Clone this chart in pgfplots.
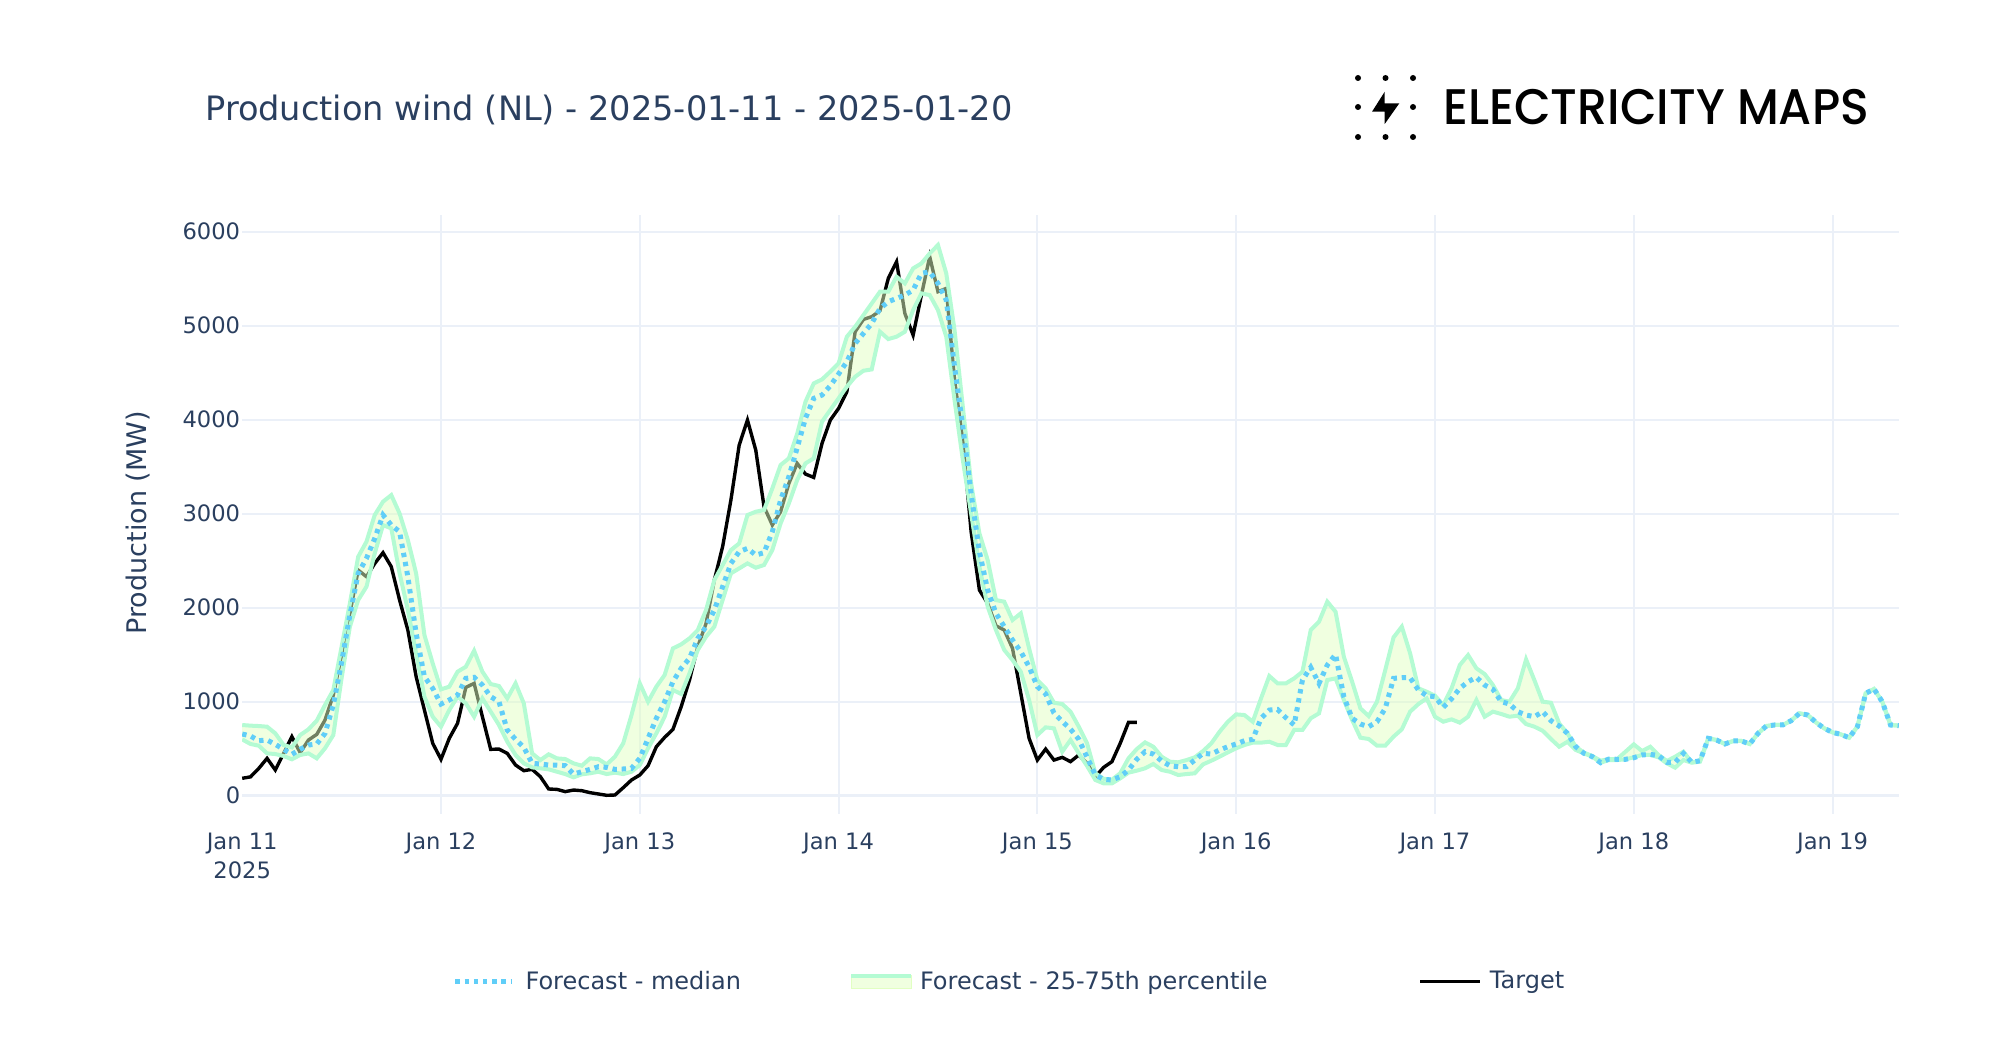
\documentclass[border=0pt]{standalone}
\usepackage{fontspec}
\usepackage{pgfplots}
\usepackage{pgfplotstable}
\pgfplotsset{compat=1.18}
\usepgfplotslibrary{fillbetween}
\setmainfont{DejaVu Sans}
\newfontfamily\logofont{Poppins Medium}[FakeStretch=0.949]

\definecolor{textc}{HTML}{2A3F5F}
\definecolor{gridc}{HTML}{EBF0F8}
\definecolor{medc}{HTML}{60CEF8}
\definecolor{bandc}{HTML}{B4FBD3}
\definecolor{fillc}{RGB}{225,255,194}

% hours since Jan 11 00:00
\pgfplotstableread{
h lo med up
0 599 656 752
1 550 635 745
2 532 585 741
3 450 592 734
4 443 546 663
5 422 493 539
6 387 440 514
7 433 493 645
8 450 539 706
9 397 550 798
10 504 663 965
11 645 965 1124
12 1250 1420 1585
13 1798 1922 2046
14 2081 2365 2542
15 2223 2525 2702
16 2578 2737 2986
17 2879 2986 3128
18 2844 2879 3198
19 2366 2808 3003
20 1975 2330 2720
21 1514 1727 2365
22 1053 1266 1709
23 840 1142 1408
24 734 975 1131
25 911 1018 1160
26 1053 1071 1319
27 982 1248 1372
28 840 1259 1542
29 1035 1177 1319
30 894 1053 1188
31 752 1000 1167
32 574 698 1035
33 433 599 1195
34 344 514 982
35 301 344 450
36 291 337 379
37 280 326 440
38 255 326 397
39 230 319 390
40 195 230 344
41 227 255 319
42 238 280 397
43 255 308 390
44 230 301 333
45 245 280 415
46 230 284 557
47 255 291 858
48 326 397 1195
49 504 610 1000
50 663 823 1160
51 840 1000 1284
52 1124 1213 1567
53 1082 1355 1610
54 1301 1461 1674
55 1550 1674 1762
56 1691 1798 1975
57 1798 1975 2294
58 2081 2223 2454
59 2365 2471 2613
60 2418 2596 2684
61 2471 2631 2986
62 2425 2560 3021
63 2454 2585 3039
64 2613 2808 3269
65 2897 3145 3518
66 3110 3394 3589
67 3358 3700 3850
68 3535 4014 4191
69 3589 4227 4386
70 3979 4262 4429
71 4103 4361 4511
72 4227 4486 4600
73 4351 4617 4883
74 4457 4812 4989
75 4521 4918 5113
76 4535 5025 5237
77 4936 5184 5362
78 4858 5255 5362
79 4883 5291 5521
80 4936 5326 5450
81 5166 5379 5610
82 5344 5557 5663
83 5326 5574 5769
84 5166 5450 5858
85 4883 5273 5557
86 4209 4564 4954
87 3571 3925 4138
88 3003 3216 3323
89 2436 2596 2791
90 2011 2188 2507
91 1762 1940 2081
92 1550 1798 2064
93 1443 1656 1869
94 1319 1532 1940
95 1018 1372 1567
96 645 1160 1230
97 727 1082 1142
98 716 880 989
99 468 790 975
100 592 708 894
101 450 600 734
102 316 408 557
103 167 220 238
104 131 174 180
105 131 167 170
106 184 202 238
107 245 273 397
108 266 387 496
109 291 468 567
110 337 443 521
111 273 369 415
112 255 319 362
113 220 308 355
114 230 308 379
115 238 379 408
116 333 450 475
117 372 443 557
118 415 486 681
119 461 521 787
120 504 550 865
121 539 585 858
122 564 599 787
123 564 823 1035
124 574 911 1273
125 539 918 1195
126 539 830 1195
127 699 752 1248
128 699 1230 1319
129 823 1365 1762
130 876 1195 1851
131 1230 1390 2064
132 1248 1503 1957
133 1018 1053 1479
134 805 823 1213
135 617 762 929
136 603 734 847
137 532 787 1000
138 532 929 1337
139 628 1248 1684
140 706 1255 1798
141 894 1255 1514
142 975 1124 1142
143 1035 1064 1106
144 840 1053 1064
145 787 940 965
146 812 1030 1142
147 777 1142 1390
148 840 1213 1496
149 1018 1259 1355
150 840 1177 1294
151 894 1131 1177
152 869 1000 1018
153 840 975 1000
154 851 894 1142
155 762 858 1450
156 734 840 1230
157 691 894 1000
158 603 798 989
159 521 741 769
160 574 663 663
161 486 521 521
162 450 450 457
163 415 415 422
164 351 351 372
165 379 390 390
166 379 387 390
167 387 387 468
168 408 404 546
169 433 433 475
170 433 440 521
171 408 426 433
172 344 355 369
173 298 355 415
174 379 450 468
175 351 355 355
176 362 372 369
177 610 610 610
178 592 592 592
179 550 550 550
180 582 582 582
181 582 582 582
182 550 550 550
183 663 663 663
184 741 741 741
185 752 752 752
186 752 752 752
187 798 798 798
188 876 876 876
189 858 858 858
190 780 780 780
191 716 716 716
192 674 674 674
193 652 652 652
194 617 617 617
195 734 734 734
196 1089 1089 1089
197 1135 1135 1135
198 1000 1000 1000
199 752 752 752
200 745 745 745
}\forecast

\pgfplotstableread{
h val
0 185
1 200
2 290
3 397
4 273
5 450
6 628
7 457
8 592
9 652
10 805
11 1070
12 1500
13 1940
14 2400
15 2330
16 2470
17 2585
18 2436
19 2081
20 1762
21 1266
22 911
23 557
24 387
25 610
26 770
27 1152
28 1195
29 840
30 493
31 496
32 450
33 326
34 266
35 280
36 202
37 71
38 67
39 43
40 60
41 53
42 32
43 18
44 4
45 7
46 85
47 167
48 220
49 319
50 521
51 620
52 705
53 947
54 1230
55 1585
56 1833
57 2294
58 2649
59 3145
60 3730
61 3996
62 3677
63 3074
64 2879
65 3021
66 3322
67 3535
68 3422
69 3386
70 3748
71 3996
72 4120
73 4298
74 4936
75 5067
76 5096
77 5160
78 5503
79 5681
80 5131
81 4900
82 5326
83 5734
84 5362
85 5397
86 4422
87 3784
88 2808
89 2188
90 2046
91 1808
92 1762
93 1567
94 1089
95 610
96 379
97 496
98 379
99 408
100 362
101 433
102 344
103 202
104 301
105 362
106 557
107 780
108 780
}\target

\begin{document}
\begin{tikzpicture}
% scope in reference pixels, origin at the axis corner
\begin{scope}[x=0.5pt,y=-0.5pt,shift={(-242.2,-814)}]
  \path[use as bounding box] (0,0) rectangle (2000,1046);
  \foreach \X in {1358,1385.5,1413} \foreach \Y in {78,107,137}
    {\ifdim\X pt=1385.5pt \ifdim\Y pt=107pt \else \fill (\X,\Y) circle (3);\fi \else \fill (\X,\Y) circle (3);\fi}
  \fill (1384.7,91.7) -- (1384.7,103.3) -- (1399.3,103.3) -- (1384.7,124) -- (1384.7,111.7) -- (1372,111.7) -- cycle;
  \node[anchor=west,inner sep=0pt] at (1443,107) {\logofont\fontsize{25}{25}\selectfont ELECTRICITY MAPS};
\end{scope}

\begin{axis}[
    at={(0,0)}, anchor=south west,
    scale only axis,
    set layers,
    width=828.3pt, height=299.5pt,
    xmin=0, xmax=200,
    ymin=-195, ymax=6178,
    axis line style={draw=none},
    tick style={draw=none},
    xtick={24,48,72,96,120,144,168,192},
    xticklabels={Jan 12,Jan 13,Jan 14,Jan 15,Jan 16,Jan 17,Jan 18,Jan 19},
    extra x ticks={0},
    extra x tick labels={Jan 11\\2025},
    extra x tick style={major grid style={draw=none}},
    ytick={1000,2000,3000,4000,5000,6000},
    extra y ticks={0},
    extra y tick style={major grid style={gridc,line width=1.6pt}},
    /pgf/number format/assume math mode=true,
    /pgf/number format/1000 sep={},
    grid=major,
    major grid style={gridc,line width=1pt},
    tick label style={font=\fontsize{11.3}{14.7}\selectfont,text=textc},
    xticklabel style={align=center,yshift=-6pt},
    yticklabel style={xshift=2.5pt},
    title={Production wind (NL) - 2025-01-11 - 2025-01-20},
    title style={font=\fontsize{16.8}{20}\selectfont,text=textc,at={(axis description cs:-0.0225,1.155)},anchor=west,inner sep=0pt},
    ylabel={Production (MW)},
    ylabel style={font=\fontsize{13.5}{16}\selectfont,text=textc,at={(axis description cs:-0.0626,0.486)},anchor=center,rotate=0,inner sep=0pt},
    legend columns=3,
    legend cell align=left,
    legend style={at={(axis description cs:0.127,-0.28)},anchor=west,draw=none,fill=none,inner sep=0pt,
        font=\fontsize{12}{14}\selectfont,text=textc,
        /tikz/column 1/.style={column sep=3.8pt},
        /tikz/column 2/.style={column sep=52pt},
        /tikz/column 3/.style={column sep=1.5pt},
        /tikz/column 4/.style={column sep=73.5pt},
        /tikz/column 5/.style={column sep=2pt}},
]
\addlegendimage{legend image code/.code={\draw[medc,line width=2.5pt,dash pattern=on 2.2pt off 2.4pt] (0pt,0pt) -- (28pt,0pt);}}
\addlegendimage{legend image code/.code={
    \fill[fillc,fill opacity=.5] (0pt,-3.2pt) rectangle (30pt,3.2pt);
    \draw[bandc,line width=2pt] (0pt,3pt) -- (30pt,3pt);}}
\addlegendimage{legend image code/.code={\draw[black,line width=1.7pt] (0pt,0pt) -- (30pt,0pt);}}

% target goes under the band, so the band tints it
\addplot[black,line width=1.7pt,forget plot,on layer=axis tick labels] table[x=h,y=val] {\target};
\addplot[name path=upper,bandc,line width=2pt,forget plot] table[x=h,y=up] {\forecast};
\addplot[name path=lower,bandc,line width=2pt,forget plot] table[x=h,y=lo] {\forecast};
\addplot[fill=fillc,fill opacity=.5] fill between[of=upper and lower];
\addplot[medc,line width=2.5pt,dash pattern=on 2.2pt off 2.4pt,forget plot] table[x=h,y=med] {\forecast};
\legend{Forecast - median,Forecast - 25-75th percentile,Target}
\end{axis}
\end{tikzpicture}
\end{document}
